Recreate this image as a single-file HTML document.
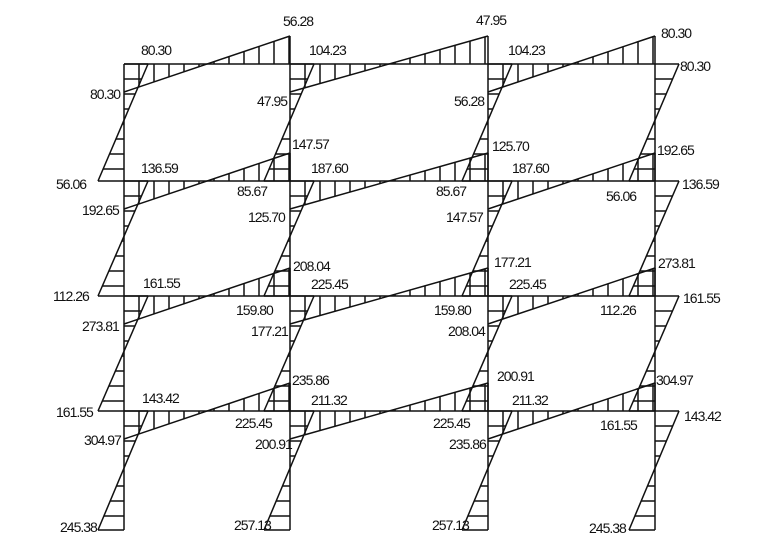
<!DOCTYPE html>
<html><head><meta charset="utf-8">
<style>
html,body{margin:0;padding:0;background:#fff;}
svg{display:block;}
text{font-family:"Liberation Sans",sans-serif;font-size:14px;fill:#111;letter-spacing:-1px;}
</style></head>
<body>
<svg id="s" width="780" height="548" viewBox="0 0 780 548" xmlns="http://www.w3.org/2000/svg">
<g id="g" stroke="#111" stroke-width="1.5" fill="none"></g>
<g id="t">
<text x="283" y="26">56.28</text>
<text x="141" y="55">80.30</text>
<text x="309" y="55">104.23</text>
<text x="476" y="25">47.95</text>
<text x="508" y="55">104.23</text>
<text x="661" y="38">80.30</text>
<text x="680" y="71">80.30</text>
<text x="90" y="99">80.30</text>
<text x="257" y="106">47.95</text>
<text x="454" y="106">56.28</text>
<text x="292" y="149">147.57</text>
<text x="492" y="151">125.70</text>
<text x="56" y="189">56.06</text>
<text x="141" y="173">136.59</text>
<text x="237" y="196">85.67</text>
<text x="311" y="173">187.60</text>
<text x="436" y="196">85.67</text>
<text x="512" y="173">187.60</text>
<text x="657" y="155">192.65</text>
<text x="682" y="189">136.59</text>
<text x="82" y="215">192.65</text>
<text x="248" y="222">125.70</text>
<text x="446" y="222">147.57</text>
<text x="606" y="201">56.06</text>
<text x="53" y="301">112.26</text>
<text x="143" y="288">161.55</text>
<text x="293" y="271">208.04</text>
<text x="236" y="315">159.80</text>
<text x="311" y="289">225.45</text>
<text x="434" y="315">159.80</text>
<text x="494" y="267">177.21</text>
<text x="509" y="289">225.45</text>
<text x="658" y="268">273.81</text>
<text x="683" y="303">161.55</text>
<text x="600" y="315">112.26</text>
<text x="82" y="331">273.81</text>
<text x="251" y="336">177.21</text>
<text x="448" y="336">208.04</text>
<text x="292" y="385">235.86</text>
<text x="497" y="381">200.91</text>
<text x="656" y="385">304.97</text>
<text x="56" y="417">161.55</text>
<text x="142" y="403">143.42</text>
<text x="235" y="428">225.45</text>
<text x="311" y="405">211.32</text>
<text x="433" y="428">225.45</text>
<text x="512" y="405">211.32</text>
<text x="600" y="430">161.55</text>
<text x="684" y="421">143.42</text>
<text x="84" y="445">304.97</text>
<text x="255" y="449">200.91</text>
<text x="449" y="449">235.86</text>
<text x="60" y="532">245.38</text>
<text x="234" y="530">257.13</text>
<text x="432" y="530">257.13</text>
<text x="589" y="533">245.38</text>
</g>
</svg>
<script>
(function(){
var g=document.getElementById('g');var h='';
function L(a,b,c,d){h+='<line x1="'+a+'" y1="'+b+'" x2="'+c+'" y2="'+d+'"/>';}
var X=[124,290,488,655],Y=[64,181,296,411],B=530,D=28,S=15;
Y.forEach(function(y){L(X[0],y,X[3],y);});
X.forEach(function(x){L(x,Y[0],x,B);});
Y.forEach(function(y){
 for(var i=0;i<3;i++){
  var xl=X[i],xr=X[i+1],yl=y+D,yr=y-D;
  L(xl,yl,xr,yr);L(xr,y,xr,yr);
  for(var x=xl+S;x<xr;x+=S){var yy=yl+(yr-yl)*(x-xl)/(xr-xl);L(x,y,x,yy);}
 }
});
var lev=[Y[0],Y[1],Y[2],Y[3],B];
X.forEach(function(xc){
 for(var k=0;k<4;k++){
  var yt=lev[k],yb=lev[k+1],xt=xc+24,xb=xc-26;
  L(xt,yt,xb,yb);L(xt,yt,xc,yt);L(xb,yb,xc,yb);
  for(var y=yt+S;y<yb;y+=S){var xx=xt+(xb-xt)*(y-yt)/(yb-yt);L(xc,y,xx,y);}
 }
});
g.innerHTML=h;
})();
</script>
</body></html>
